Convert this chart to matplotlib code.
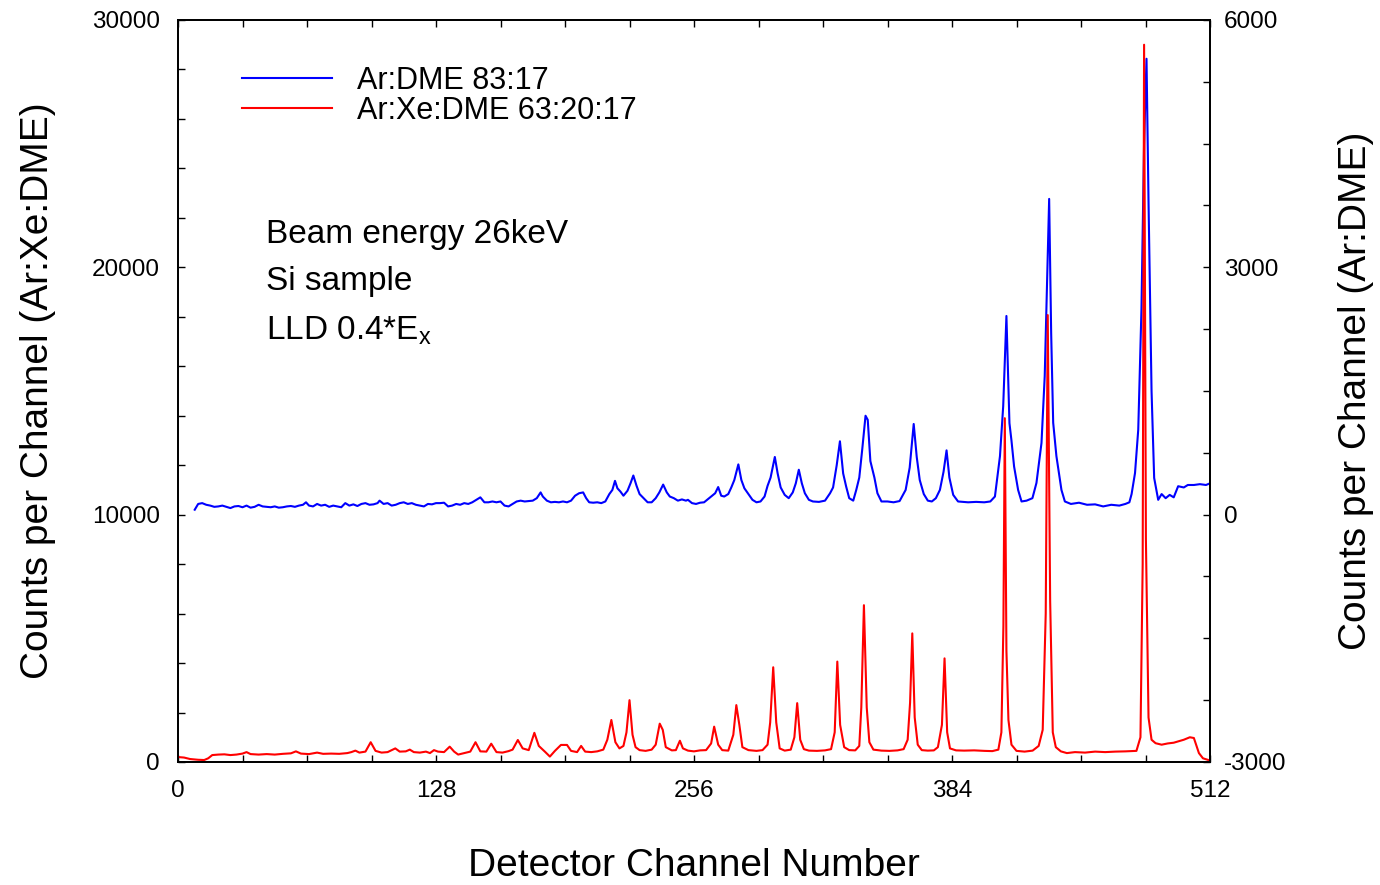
import matplotlib
matplotlib.use("Agg")
import matplotlib.pyplot as plt
from matplotlib.ticker import MultipleLocator

plt.rcParams["font.family"] = ["Liberation Sans", "DejaVu Sans"]
plt.rcParams["mathtext.default"] = "regular"
plt.rcParams["axes.unicode_minus"] = False

# Ar:Xe:DME 63:20:17 spectrum (left axis)
xe_channel = [
    0, 3, 6, 10, 13, 15, 17, 20, 23, 26, 29, 32, 34, 36, 40, 44, 48, 52, 56, 58.5,
    61, 65, 69, 72, 76, 80, 84, 86, 88, 90, 93, 95.6, 98, 101, 104, 107.8, 110, 113,
    115, 117, 120, 123, 125, 127, 129, 132, 134.8, 137, 139, 142, 145, 147.6, 150,
    153, 155.4, 158, 161, 164, 166, 168.6, 171, 174, 176.8, 179, 182, 184.5, 187,
    190, 193, 195, 198, 200, 202, 205, 208, 211, 213, 215, 217, 219, 221, 222.5,
    224, 225.5, 227, 229, 232, 235, 237, 239, 240.5, 242, 245, 247, 249, 250.5,
    253, 256, 259, 262, 264.5, 266, 268, 270, 273, 275.5, 277, 278.5, 280, 283,
    287, 290, 292.5, 293.8, 295.3, 296.8, 298.5, 301, 304, 305.8, 307.2, 308.7,
    310.5, 313, 317, 321, 324, 325.8, 327.1, 328.5, 330.5, 333, 336, 338, 339,
    340.3, 341.7, 343, 345, 349, 353, 357, 360, 362, 363.2, 364.3, 365.5, 367, 369,
    372, 375, 377, 379, 380.3, 381.6, 383, 386, 390, 395, 400, 404, 407, 408.5,
    409.5, 410.2, 411, 412, 413.5, 416, 420, 424, 427, 429, 430.5, 431.5, 432.7,
    434, 435.5, 438, 441, 445, 450, 455, 460, 465, 470, 475.5, 477.5, 478.6, 479.3,
    480.2, 481.5, 483, 485, 488, 491, 494, 497, 499, 502, 504, 506.5, 508.5, 512,
]
xe_counts = [
    200, 180, 120, 90, 80, 150, 280, 300, 310, 280, 300, 340, 400, 320, 300, 320, 300, 330, 350, 430,
    340, 320, 380, 330, 340, 330, 360, 400, 460, 380, 420, 800, 450, 380, 400, 550, 420, 430,
    500, 400, 380, 420, 360, 480, 420, 400, 620, 420, 300, 360, 420, 800, 430,
    420, 740, 400, 380, 440, 500, 890, 550, 480, 1180, 650, 420, 220, 450,
    690, 690, 450, 400, 650, 420, 400, 430, 500, 900, 1700, 800, 550, 650, 1200,
    2500, 1100, 600, 480, 450, 500, 700, 1550, 1300, 600, 470, 480, 860, 550,
    460, 430, 470, 480, 750, 1430, 700, 480, 460, 1100, 2300, 1500, 600, 480,
    450, 480, 700, 1600, 3830, 1600, 550, 460, 500, 1000, 2380, 900,
    520, 460, 450, 470, 520, 1200, 4060, 1500, 600, 480, 470, 650, 2200,
    6340, 2200, 800, 500, 460, 450, 470, 520, 900, 2400, 5200, 1800, 700, 480,
    460, 470, 600, 1500, 4190, 1200, 550, 470, 460, 470, 450, 440, 500, 1200,
    5500, 13900, 4500, 1700, 700, 450, 420, 460, 650, 1300, 6000, 18070, 6500,
    1200, 600, 430, 360, 400, 380, 420, 400, 420, 430, 450, 1000, 8000, 29000,
    9000, 1800, 900, 760, 700, 750, 780, 850, 900, 1000, 970, 360, 150, 60,
]

# Ar:DME 83:17 spectrum (right axis)
dme_channel = [
    8.3, 10, 12, 14, 16, 18, 20, 22, 24, 26, 28, 30, 32, 34, 36, 38, 40, 42, 44, 46,
    48, 50, 52, 54, 56, 58, 60, 62, 63.5, 65, 67, 69, 71, 73, 75, 77, 79, 81, 83, 85,
    87, 89, 91, 93, 95, 97, 99, 100, 102, 104, 106, 108, 110, 112, 114, 116, 118,
    120, 122, 124, 126, 128, 130, 132, 134, 136, 138, 140, 142, 144, 146, 148, 150,
    152, 154, 156, 158, 160, 162, 164, 166, 168, 170, 172, 174, 176, 178, 179.9,
    181, 183, 185, 187, 189, 191, 193, 195, 197, 199, 201, 202.5, 204, 206, 208,
    210, 212, 214, 215.5, 216.8, 218, 219.5, 221, 223, 224.5, 225.9, 227.5, 229,
    231, 233, 235, 237, 238.8, 240.7, 242.5, 244, 246, 248, 250, 252, 253, 255,
    257, 259, 261, 263, 265, 266.5, 268, 269.5, 271, 273, 274.5, 276, 278, 279.5,
    281, 283, 285, 287, 289, 291, 292.5, 294, 296.1, 297.5, 299, 301, 303, 305,
    306.5, 308, 309.5, 311, 313, 315, 318, 321, 323.5, 325, 326.8, 328.4, 330,
    331.5, 333, 335, 336.5, 338, 339.5, 341.1, 342.2, 343.5, 345.5, 347, 349, 352,
    355, 358, 361, 363, 365, 366.5, 368, 370, 372, 374, 376, 378, 379.8, 381.3,
    382.7, 384.6, 387, 392, 396, 400, 403, 405.3, 407.8, 409.4, 411, 412.5, 413.5,
    414.8, 416.8, 418.5, 421, 423.9, 425.9, 428.4, 430, 432.2, 433.2, 434.2, 435.8,
    438.3, 440, 443, 447, 451, 455, 459, 463, 467, 470, 472, 473.1, 474.8, 476.4,
    478, 479.3, 480.5, 481.5, 483, 484.3, 486.3, 488, 490, 492, 494, 496.2, 499,
    501, 504, 507, 510, 512,
]
dme_counts = [
    60, 130, 140, 120, 110, 95, 100, 110, 95, 80, 100, 105, 90, 110, 85, 95, 120, 100, 95, 90,
    100, 85, 90, 100, 105, 95, 110, 120, 150, 110, 100, 130, 110, 120, 95, 110, 100, 90, 140, 110,
    125, 105, 130, 140, 120, 125, 140, 170, 130, 140, 110, 120, 140, 150, 130, 140, 120,
    110, 100, 130, 125, 140, 140, 145, 100, 110, 130, 120, 140, 130, 150, 180, 210,
    150, 150, 160, 150, 160, 110, 100, 130, 160, 170, 160, 165, 170, 200, 270,
    220, 170, 150, 155, 150, 160, 150, 170, 230, 260, 270, 200, 150, 145, 150,
    140, 160, 250, 300, 410, 320, 280, 230, 290, 380, 475, 350, 250,
    200, 150, 150, 200, 270, 365, 270, 220, 200, 170, 185, 170, 180, 140,
    130, 145, 150, 190, 230, 260, 335, 230, 220, 250, 330, 420, 610, 420,
    320, 250, 180, 150, 160, 220, 350, 450, 700, 500, 330, 240, 200, 270,
    380, 545, 380, 260, 180, 160, 155, 170, 260, 330, 600, 890, 500,
    340, 200, 170, 300, 450, 800, 1200, 1150, 650, 450, 260, 160, 160,
    150, 165, 300, 570, 1100, 700, 420, 250, 170, 160, 200, 300, 520, 780,
    450, 240, 160, 150, 155, 150, 160, 220, 710, 1315, 2410, 1110, 900,
    585, 300, 160, 170, 200, 385, 870, 1680, 3830, 2200, 1115, 710,
    300, 160, 130, 145, 120, 125, 100, 120, 110, 130, 150, 250, 505, 1030,
    2500, 4500, 5530, 3800, 1500, 445, 180, 250, 200, 240, 210, 345, 330,
    360, 360, 370, 360, 380,
]

x_ticks = [0, 128, 256, 384, 512]
left_ticks = [0, 10000, 20000, 30000]
right_ticks = [-3000, 0, 3000, 6000]

notes = ["Beam energy 26keV", "Si sample", "LLD 0.4*E$_x$"]
series_labels = ["Ar:DME 83:17", "Ar:Xe:DME 63:20:17"]

fig = plt.figure(figsize=(13.8, 8.85), dpi=100)
ax = fig.add_axes([178 / 1380, 1 - 762 / 885, 1032 / 1380, 742 / 885])
ax2 = ax.twinx()

line_dme, = ax2.plot(dme_channel, dme_counts, color="#0000ff", lw=1.5)
line_xe, = ax.plot(xe_channel, xe_counts, color="#ff0000", lw=1.5)

# keep the red trace above the blue one
ax.set_zorder(ax2.get_zorder() + 1)
ax.patch.set_visible(False)

ax.set_xlim(0, 512)
ax.set_ylim(0, 30000)
ax2.set_ylim(-3000, 6000)
ax.set_xticks(x_ticks)
ax.set_yticks(left_ticks)
ax2.set_yticks(right_ticks)
ax.xaxis.set_minor_locator(MultipleLocator(32))
ax.yaxis.set_minor_locator(MultipleLocator(2000))
ax2.yaxis.set_minor_locator(MultipleLocator(750))

tick_kw = dict(direction="in", length=5, width=1.0, color="black")
ax.tick_params(axis="x", which="both", top=True, bottom=True, **tick_kw)
ax.tick_params(axis="y", which="both", left=True, right=False, **tick_kw)
ax2.tick_params(axis="y", which="both", right=True, left=False, **tick_kw)
ax.tick_params(axis="x", which="major", labelsize=17.5, pad=13)
ax.tick_params(axis="y", which="major", labelsize=17.5, pad=13)
ax2.tick_params(axis="y", which="major", labelsize=17.5, pad=10)

for a in (ax, ax2):
    for s in a.spines.values():
        s.set_linewidth(1.3)

ax.set_xlabel("Detector Channel Number", fontsize=28, labelpad=33)
ax.set_ylabel("Counts per Channel (Ar:Xe:DME)", fontsize=28, labelpad=26)
ax2.set_ylabel("Counts per Channel (Ar:DME)", fontsize=28, rotation=90, labelpad=37)

note_y = [0.6995, 0.636, 0.5687]
for txt, yy in zip(notes, note_y):
    ax.text(0.0853, yy, txt, transform=ax.transAxes, fontsize=24,
            ha="left", va="baseline")

ax.legend([line_dme, line_xe], series_labels, loc="upper left",
          bbox_to_anchor=(0.062, 0.938), frameon=False, fontsize=22,
          handlelength=2.95, handletextpad=0.8, labelspacing=0.0,
          borderpad=0, borderaxespad=0)

fig.savefig("out.png", dpi=100)
